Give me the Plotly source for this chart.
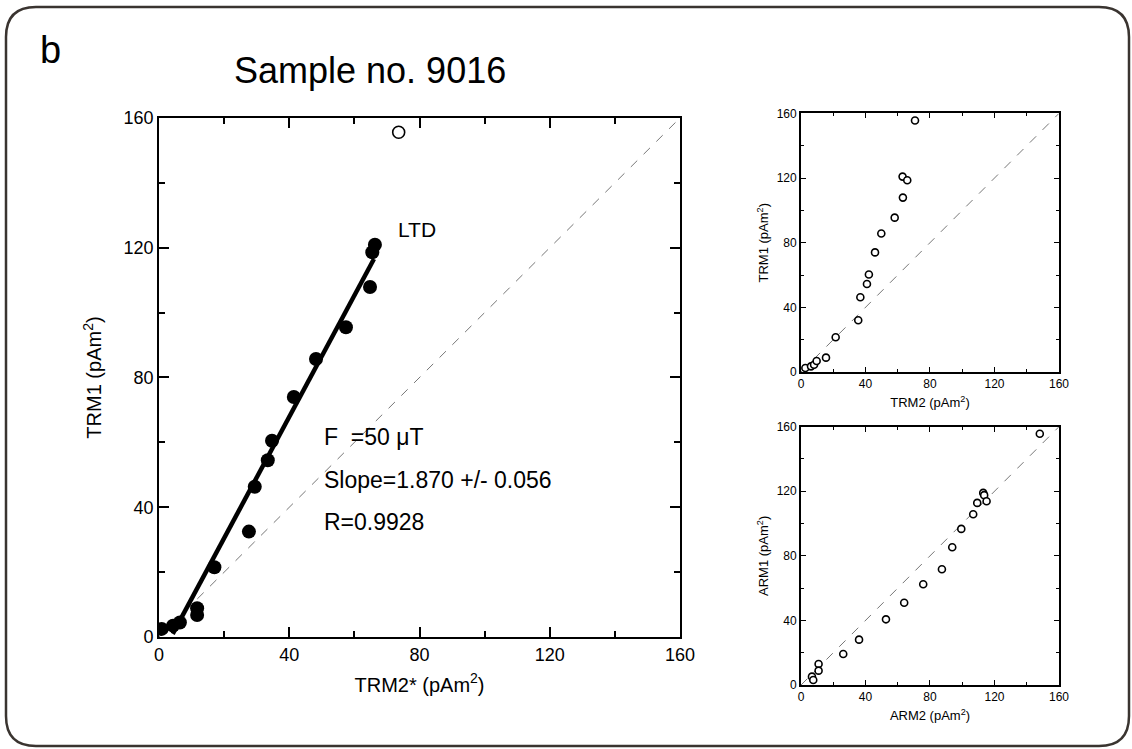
import plotly.graph_objects as go

# ---- data ----
main_x = [0.8, 4.3, 6.4, 11.7, 11.7, 17.0, 27.6, 29.4, 33.4, 34.7, 41.4, 48.2, 57.4, 64.8, 65.5, 66.3]
main_y = [2.5, 3.5, 4.5, 6.8, 8.9, 21.5, 32.5, 46.3, 54.5, 60.5, 74.0, 85.7, 95.5, 107.9, 118.6, 120.9]
outlier_x = [73.6]
outlier_y = [155.6]

fit_slope = 1.870
fit_intercept = -6.9
fit_x = [4.2, 66.0]

trm2 = [2.7, 6.2, 8.1, 9.7, 15.5, 21.5, 35.5, 36.8, 40.9, 42.1, 45.9, 49.8, 58.1, 63.2, 63.0, 65.9, 70.7]
trm1 = [2.5, 3.5, 4.5, 6.8, 8.9, 21.5, 32.0, 46.3, 54.5, 60.3, 74.0, 85.7, 95.5, 107.9, 120.9, 118.6, 155.6]

arm2 = [6.8, 7.6, 10.9, 10.9, 26.2, 36.0, 52.7, 64.0, 75.8, 87.4, 93.8, 99.4, 106.8, 109.3, 113.0, 113.6, 115.1, 148.1]
arm1 = [5.2, 3.1, 13.0, 8.9, 19.2, 28.1, 40.7, 51.0, 62.4, 71.7, 85.3, 96.7, 105.8, 112.8, 119.0, 117.6, 113.8, 155.6]

diag = [0, 160]
ticks = [0, 40, 80, 120, 160]

FONT = "Liberation Sans, Arial, sans-serif"

fig = go.Figure()

# main plot
fig.add_trace(go.Scatter(x=diag, y=diag, mode="lines", xaxis="x", yaxis="y",
                         line=dict(color="#777777", width=1, dash="dash"), showlegend=False))
fig.add_trace(go.Scatter(x=fit_x, y=[fit_slope * v + fit_intercept for v in fit_x], mode="lines",
                         xaxis="x", yaxis="y", line=dict(color="black", width=4.5), showlegend=False))
fig.add_trace(go.Scatter(x=main_x, y=main_y, mode="markers", xaxis="x", yaxis="y",
                         marker=dict(size=14, color="black"), showlegend=False))
fig.add_trace(go.Scatter(x=outlier_x, y=outlier_y, mode="markers", xaxis="x", yaxis="y",
                         marker=dict(size=12, color="white", line=dict(color="black", width=1.6)),
                         showlegend=False))

# inset 1
fig.add_trace(go.Scatter(x=diag, y=diag, mode="lines", xaxis="x2", yaxis="y2",
                         line=dict(color="#777777", width=1, dash="dash"), showlegend=False))
fig.add_trace(go.Scatter(x=trm2, y=trm1, mode="markers", xaxis="x2", yaxis="y2",
                         marker=dict(size=7, color="white", line=dict(color="black", width=1.6)),
                         showlegend=False))
# inset 2
fig.add_trace(go.Scatter(x=diag, y=diag, mode="lines", xaxis="x3", yaxis="y3",
                         line=dict(color="#777777", width=1, dash="dash"), showlegend=False))
fig.add_trace(go.Scatter(x=arm2, y=arm1, mode="markers", xaxis="x3", yaxis="y3",
                         marker=dict(size=7, color="white", line=dict(color="black", width=1.6)),
                         showlegend=False))


def ax(domain, anchor, title, fs, tfs, lw, tl, mtl, standoff):
    return dict(domain=domain, anchor=anchor, range=[0, 160], tickvals=ticks,
                automargin=False,
                ticks="inside", ticklen=tl, tickwidth=lw * 0.8, tickcolor="black",
                minor=dict(dtick=20, tick0=0, ticks="inside", ticklen=mtl, tickwidth=lw * 0.8,
                           tickcolor="black", showgrid=False),
                showline=True, linecolor="black", linewidth=lw, mirror="ticks",
                showgrid=False, zeroline=False,
                tickfont=dict(family=FONT, size=fs, color="black"),
                title=dict(text=title, font=dict(family=FONT, size=tfs, color="black"),
                           standoff=standoff))


layout = dict(
    width=1132, height=749,
    margin=dict(l=0, r=0, t=0, b=0, pad=0),
    paper_bgcolor="white", plot_bgcolor="white",
    xaxis=ax([0.1405, 0.6007], "y", "TRM2* (pAm<sup>2</sup>)", 18, 20, 2, 10, 6, 14),
    yaxis=ax([0.1495, 0.8425], "x", "TRM1 (pAm<sup>2</sup>)", 18, 20, 2, 10, 6, 16),
    xaxis2=ax([0.7076, 0.9355], "y2", "TRM2 (pAm<sup>2</sup>)", 12, 13, 1.8, 5, 3, 8),
    yaxis2=ax([0.5033, 0.8486], "x2", "TRM1 (pAm<sup>2</sup>)", 12, 13, 1.8, 5, 3, 5),
    xaxis3=ax([0.7076, 0.9355], "y3", "ARM2 (pAm<sup>2</sup>)", 12, 13, 1.8, 5, 3, 8),
    yaxis3=ax([0.0854, 0.4303], "x3", "ARM1 (pAm<sup>2</sup>)", 12, 13, 1.8, 5, 3, 5),
)
fig.update_layout(**layout)

# rounded frame
r = 30
x0, y0, x1, y1 = 6, 7, 1129, 746
W, H = 1132, 749


def px(x):
    return x / W


def py(y):
    return 1 - y / H


path = (f"M {px(x0 + r)},{py(y0)} L {px(x1 - r)},{py(y0)} "
        f"Q {px(x1)},{py(y0)} {px(x1)},{py(y0 + r)} "
        f"L {px(x1)},{py(y1 - r)} Q {px(x1)},{py(y1)} {px(x1 - r)},{py(y1)} "
        f"L {px(x0 + r)},{py(y1)} Q {px(x0)},{py(y1)} {px(x0)},{py(y1 - r)} "
        f"L {px(x0)},{py(y0 + r)} Q {px(x0)},{py(y0)} {px(x0 + r)},{py(y0)} Z")
fig.add_shape(type="path", path=path, xref="paper", yref="paper",
              line=dict(color="#3a3430", width=2.5))


def label(text, x, y, size, xanchor="center"):
    fig.add_annotation(text=text, x=px(x), y=py(y), xref="paper", yref="paper",
                       xanchor=xanchor, yanchor="middle", showarrow=False,
                       font=dict(family=FONT, size=size, color="black"))


label("b", 50, 50, 38)
label("Sample no. 9016", 370, 70, 36)
label("LTD", 417, 229, 21)
label("F  =50 \u03bcT", 322, 437, 23, "left")
label("Slope=1.870 +/- 0.056", 322, 480, 23, "left")
label("R=0.9928", 322, 522, 23, "left")

fig.write_html("out.html")
